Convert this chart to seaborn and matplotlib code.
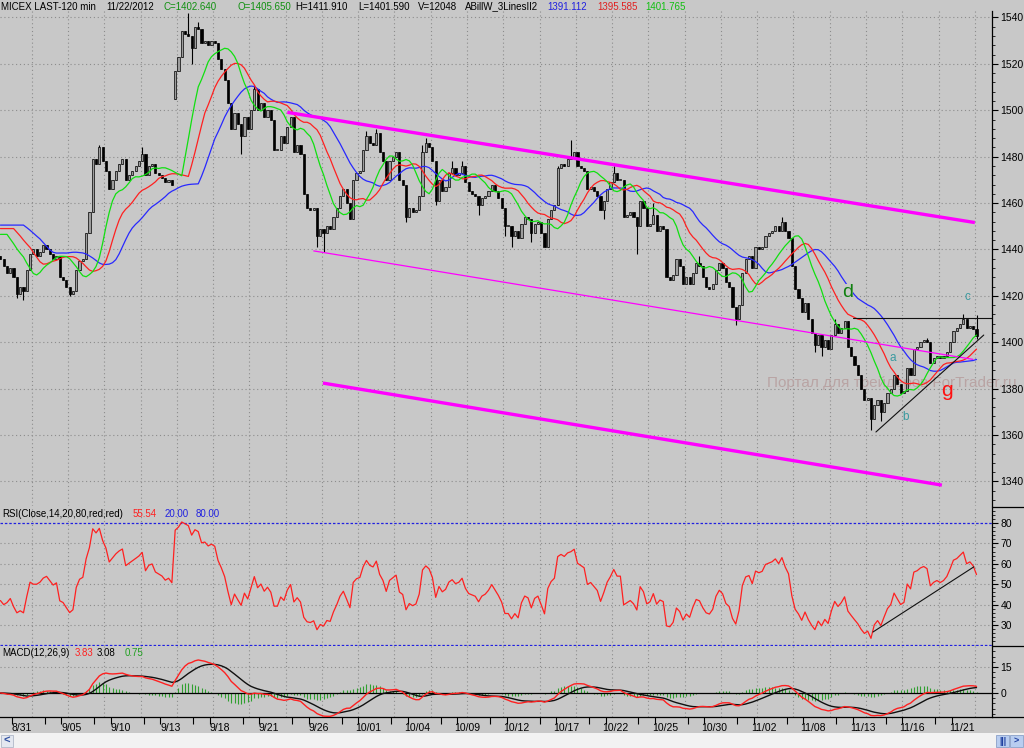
import numpy as np
import pandas as pd
import matplotlib
matplotlib.use("Agg")
import matplotlib.pyplot as plt
from matplotlib.patches import Rectangle
from matplotlib.lines import Line2D
import seaborn as sns

# ---- data (2-hour bars, MICEX) ----
days = ["8/30", "8/31", "9/03", "9/04", "9/05", "9/06", "9/07", "9/10", "9/11", "9/12",
        "9/13", "9/14", "9/17", "9/18", "9/19", "9/20", "9/21", "9/24", "9/25", "9/26",
        "9/27", "9/28", "10/01", "10/02", "10/03", "10/04", "10/05", "10/08", "10/09", "10/10",
        "10/11", "10/12", "10/15", "10/16", "10/17", "10/18", "10/19", "10/22", "10/23", "10/24",
        "10/25", "10/26", "10/29", "10/30", "10/31", "11/01", "11/02", "11/06", "11/07", "11/08",
        "11/09", "11/12", "11/13", "11/14", "11/15", "11/16", "11/19", "11/20", "11/21", "11/22"]
bars_per_day = [4] + [5] * 58 + [3]

closes = [
    1436, 1433, 1430, 1432, 1428, 1421, 1424, 1422, 1431, 1438,
    1440, 1437, 1439, 1442, 1440, 1438, 1436, 1437, 1428, 1427,
    1424, 1421, 1422, 1431, 1435, 1436, 1447, 1456, 1479, 1477,
    1484, 1478, 1474, 1466, 1470, 1474, 1477, 1479, 1470, 1472,
    1474, 1476, 1478, 1481, 1472, 1476, 1477, 1473, 1472, 1471,
    1469, 1470, 1468, 1517, 1523, 1534, 1533, 1532, 1527, 1536,
    1535, 1529, 1530, 1528, 1530, 1529, 1522, 1518, 1513, 1503,
    1492, 1499, 1494, 1489, 1497, 1492, 1500, 1509, 1500, 1503,
    1497, 1500, 1496, 1483, 1483, 1489, 1486, 1493, 1497, 1482,
    1485, 1481, 1464, 1458, 1457, 1458, 1446, 1449, 1447, 1450,
    1449, 1454, 1458, 1463, 1466, 1460, 1453, 1470, 1473, 1474,
    1483, 1489, 1486, 1485, 1490, 1482, 1478, 1470, 1478, 1480,
    1482, 1470, 1468, 1454, 1458, 1456, 1457, 1463, 1482, 1486,
    1484, 1478, 1461, 1470, 1465, 1467, 1473, 1475, 1472, 1473,
    1476, 1469, 1465, 1464, 1463, 1459, 1462, 1463, 1465, 1468,
    1465, 1462, 1458, 1450, 1450, 1446, 1448, 1445, 1451, 1454,
    1453, 1447, 1451, 1452, 1447, 1441, 1453, 1457, 1459, 1475,
    1477, 1476, 1479, 1480, 1482, 1476, 1475, 1474, 1466, 1467,
    1465, 1463, 1457, 1461, 1466, 1469, 1473, 1470, 1470, 1454,
    1455, 1456, 1454, 1450, 1461, 1458, 1450, 1451, 1455, 1448,
    1450, 1449, 1428, 1427, 1429, 1436, 1433, 1425, 1428, 1425,
    1430, 1434, 1433, 1428, 1424, 1423, 1425, 1431, 1434, 1432,
    1426, 1424, 1415, 1410, 1416, 1430, 1436, 1437, 1432, 1441,
    1440, 1441, 1446, 1447, 1448, 1450, 1448, 1452, 1448, 1445,
    1433, 1423, 1419, 1413, 1417, 1410, 1404, 1399, 1403, 1398,
    1401, 1397, 1403, 1408, 1404, 1406, 1409, 1398, 1394, 1390,
    1386, 1380, 1375, 1376, 1367, 1373, 1375, 1370, 1374, 1378,
    1380, 1386, 1382, 1378, 1379, 1389, 1386, 1397, 1398, 1400,
    1401, 1400, 1391, 1393, 1394, 1393, 1394, 1396, 1400, 1405,
    1406, 1408, 1410, 1406, 1407, 1405.65, 1402.64,
]
# opens that differ from the previous close
gap_opens = {0: 1437, 53: 1505}
# visible wick extremes
wick_highs = {30: 1485, 43: 1484, 57: 1542, 60: 1538, 77: 1511, 111: 1491, 114: 1492,
              128: 1485, 129: 1488, 137: 1478, 140: 1478, 169: 1476, 173: 1487,
              186: 1476, 198: 1460, 212: 1437, 237: 1454, 253: 1410, 281: 1402,
              292: 1412, 296: 1411.91}
wick_lows = {5: 1419, 7: 1418, 21: 1420, 58: 1520, 73: 1481, 96: 1441, 98: 1439,
             123: 1452, 132: 1459, 145: 1455, 153: 1446, 155: 1441, 161: 1443,
             183: 1453, 193: 1438, 223: 1407.5, 247: 1396, 249: 1394, 264: 1362,
             267: 1366, 296: 1401.59}

# indicator values at the left edge of the picture (before enough history exists)
jaw_start, teeth_start, lips_start = 1450.5, 1449.0, 1446.5
rsi_head = [42, 40, 41, 43, 39, 36, 37, 36, 44, 51, 50, 50, 51, 53]
rsi_period = 14

# drawn objects (bar index, price)
upper_channel = [(87.0, 1499.1), (295.5, 1451.6)]
middle_line = [(94.9, 1439.4), (295.0, 1392.6)]
lower_channel = [(97.8, 1382.4), (285.5, 1338.4)]
resistance = [(258.5, 1410.3), (300.7, 1410.3)]
support = [(265.5, 1361.3), (298.2, 1403.1)]
rsi_trend = [(264.6, 26.6), (295.2, 58.5)]
letters = [("d", 256.9, 1421.3), ("c", 293.3, 1419.5), ("a", 270.6, 1393.2),
           ("b", 274.6, 1367.9), ("g", 286.9, 1379.4)]

header = [("MICEX LAST-120 min", 1, "black"), ("11/22/2012", 106, "black"),
          ("C=1402.640", 163, "#109010"), ("O=1405.650", 237, "#109010"),
          ("H=1411.910", 295, "black"), ("L=1401.590", 358, "black"),
          ("V=12048", 418, "black"), ("ABillW_3LinesII2", 465, "black"),
          ("1391.112", 547, "#2020e0"), ("1395.585", 597, "#e02020"),
          ("1401.765", 645, "#10c010")]
rsi_title = [("RSI(Close,14,20,80,red,red)", 2, "black"), ("55.54", 133, "#ff2020"),
             ("20.00", 165, "#2020e0"), ("80.00", 196, "#2020e0")]
macd_title = [("MACD(12,26,9)", 2, "black"), ("3.83", 75, "#ff2020"),
              ("3.08", 97, "black"), ("0.75", 125, "#20a020")]

BG = "#c8c8c8"
W, H = 1024, 748


def fx(px):
    return px / W


def fy(py):
    return 1 - py / H


def smma(values, n, seed):
    out, prev = [], seed
    for v in values:
        prev = (prev * (n - 1) + v) / n
        out.append(prev)
    return np.array(out)


def shifted(line, shift, seed):
    return np.concatenate([[seed] * shift, line[:-shift]])


def wilder_rsi(values, n, head):
    d = np.diff(values)
    g, l = np.clip(d, 0, None), np.clip(-d, 0, None)
    out = list(head)
    ag, al = g[:n].mean(), l[:n].mean()
    out.append(100 - 100 / (1 + ag / al))
    for k in range(n, len(d)):
        ag = (ag * (n - 1) + g[k]) / n
        al = (al * (n - 1) + l[k]) / n
        out.append(100 - 100 / (1 + ag / al))
    return np.array(out)


sns.set_theme(style="white", rc={"axes.facecolor": BG, "figure.facecolor": BG})
plt.rcParams["font.family"] = ["Liberation Sans", "DejaVu Sans"]

df = pd.DataFrame({"close": closes})
df["bar"] = np.arange(len(df))
df["open"] = df["close"].shift(1)
for k, v in gap_opens.items():
    df.loc[k, "open"] = v
df["high"] = df[["open", "close"]].max(axis=1)
df["low"] = df[["open", "close"]].min(axis=1)
for k, v in wick_highs.items():
    df.loc[k, "high"] = max(v, df.loc[k, "high"])
for k, v in wick_lows.items():
    df.loc[k, "low"] = min(v, df.loc[k, "low"])
median = ((df["high"] + df["low"]) / 2).values

df["jaw"] = shifted(smma(median, 13, jaw_start), 8, jaw_start)
df["teeth"] = shifted(smma(median, 8, teeth_start), 5, teeth_start)
df["lips"] = shifted(smma(median, 5, lips_start), 3, lips_start)

df["rsi"] = wilder_rsi(df["close"].values, rsi_period, rsi_head)
ema12 = df["close"].ewm(span=12, adjust=False).mean()
ema26 = df["close"].ewm(span=26, adjust=False).mean()
df["macd"] = ema12 - ema26
df["signal"] = df["macd"].ewm(span=9, adjust=False).mean()
df["hist"] = df["macd"] - df["signal"]

fig = plt.figure(figsize=(10.24, 7.48), dpi=100)
ax_p = fig.add_axes([0, fy(506), fx(992), fy(11) - fy(506)])
ax_r = fig.add_axes([0, fy(646), fx(992), fy(507) - fy(646)], sharex=ax_p)
ax_m = fig.add_axes([0, fy(717), fx(992), fy(646) - fy(717)], sharex=ax_p)

xmin, xmax = -0.12, 300.7
ax_p.set_xlim(xmin, xmax)
ax_p.set_ylim(1329.4, 1542.8)
ax_r.set_ylim(19.75, 87.8)
ax_m.set_ylim(-13.85, 27.1)

grid_kw = dict(color="#8c8c8c", lw=0.8, ls=(0, (1, 2.5)), zorder=0.3)
for ax in (ax_p, ax_r, ax_m):
    for s in ("top", "left", "bottom"):
        ax.spines[s].set_visible(False)
    ax.spines["right"].set_color("black")
    ax.spines["right"].set_linewidth(0.9)
    ax.yaxis.tick_right()
    ax.tick_params(axis="y", direction="out", length=4, width=0.8, pad=2,
                   labelsize=7.5, colors="black")
    ax.tick_params(axis="y", which="minor", direction="out", length=2, width=0.7)
    ax.tick_params(axis="x", which="both", bottom=False, labelbottom=False)
    for g in np.arange(9.5, xmax, 11):
        ax.axvline(g, **grid_kw)
ax_m.spines["bottom"].set_visible(True)
ax_m.spines["bottom"].set_color("black")
ax_m.spines["bottom"].set_linewidth(0.9)

# price panel
ax_p.set_yticks(np.arange(1340, 1541, 20))
ax_p.set_yticks(np.arange(1332, 1542, 4), minor=True)
for v in np.arange(1340, 1541, 20):
    ax_p.axhline(v, **grid_kw)

ax_p.text(fx(767), fy(383), "Портал для трейдеров ForTrader.ru", transform=fig.transFigure,
          fontsize=11, color="#b9a4a4", va="center", ha="left", zorder=0.5, clip_on=False)

up = df["close"] >= df["open"]
ax_p.vlines(df["bar"], df["low"], df["high"], color="black", lw=0.8, zorder=2)
body_h = (df["close"] - df["open"]).abs().clip(lower=0.35)
body_b = df[["open", "close"]].min(axis=1)
ax_p.bar(df["bar"][up], body_h[up], bottom=body_b[up], width=0.66,
         color="#9c9c9c", edgecolor="black", linewidth=0.5, zorder=2.1)
ax_p.bar(df["bar"][~up], body_h[~up], bottom=body_b[~up], width=0.66,
         color="black", edgecolor="black", linewidth=0.5, zorder=2.1)

sns.lineplot(data=df, x="bar", y="jaw", ax=ax_p, color="#2828ff", lw=0.9, zorder=3)
sns.lineplot(data=df, x="bar", y="teeth", ax=ax_p, color="#ff2020", lw=0.9, zorder=3)
sns.lineplot(data=df, x="bar", y="lips", ax=ax_p, color="#10e010", lw=0.9, zorder=3)

for pts, lw in ((upper_channel, 2.4), (middle_line, 0.9), (lower_channel, 2.4)):
    ax_p.plot([p[0] for p in pts], [p[1] for p in pts], color="#ff00ff", lw=lw,
              solid_capstyle="butt", zorder=4)
for pts in (resistance, support):
    ax_p.plot([p[0] for p in pts], [p[1] for p in pts], color="#101010", lw=0.8, zorder=4)

for ch, bx, py in letters:
    if ch == "d":
        ax_p.text(bx, py, ch, fontsize=14, color="#108010", ha="center", va="center",
                  zorder=5, bbox=dict(facecolor=BG, edgecolor="none", pad=0.3))
    elif ch == "g":
        ax_p.text(bx, py, ch, fontsize=15, color="#ff1010", ha="center", va="center", zorder=5)
    else:
        ax_p.text(bx, py, ch, fontsize=8.5, color="#3a9aa0", ha="center", va="center", zorder=5)
ax_p.set_xlabel("")
ax_p.set_ylabel("")

# RSI panel
ax_r.set_yticks(np.arange(30, 81, 10))
ax_r.set_yticks(np.arange(22, 88, 2), minor=True)
for v in np.arange(30, 71, 10):
    ax_r.axhline(v, **grid_kw)
for v in (20, 80):
    ax_r.axhline(v, color="#2020e0", lw=0.9, ls=(0, (2, 1.5)), zorder=1)
sns.lineplot(data=df, x="bar", y="rsi", ax=ax_r, color="#ff2020", lw=0.9, zorder=3)
ax_r.plot([p[0] for p in rsi_trend], [p[1] for p in rsi_trend], color="#101010", lw=0.8, zorder=4)
ax_r.set_xlabel("")
ax_r.set_ylabel("")

# MACD panel
ax_m.set_yticks([0, 15])
ax_m.set_yticks(np.arange(-12, 27, 3), minor=True)
ax_m.axhline(15, **grid_kw)
ax_m.vlines(df["bar"], 0, df["hist"], color="#30a030", lw=0.8, zorder=2)
ax_m.axhline(0, color="black", lw=0.9, zorder=2.5)
sns.lineplot(data=df, x="bar", y="signal", ax=ax_m, color="#101010", lw=1.0, zorder=3)
sns.lineplot(data=df, x="bar", y="macd", ax=ax_m, color="#ff2020", lw=1.0, zorder=3.1)
ax_m.set_xlabel("")
ax_m.set_ylabel("")

# date axis
starts = np.concatenate([[0], np.cumsum(bars_per_day)[:-1]])
label_days = list(range(1, len(days), 3))
ax_m.set_xticks([starts[j] + 2.5 for j in label_days])
ax_m.set_xticklabels([days[j] for j in label_days])
ax_m.set_xticks([starts[j] - 0.5 for j in range(1, len(days)) if (j - 1) % 3 != 1], minor=True)
ax_m.tick_params(axis="x", which="major", bottom=True, labelbottom=True, length=0,
                 pad=4, labelsize=7.5, colors="black")
ax_m.tick_params(axis="x", which="minor", bottom=True, length=5, width=0.8,
                 direction="out", color="black")
ax_m.set_xlim(xmin, xmax)

# panel titles and header
for rows, py in ((header, 6.5), (rsi_title, 514), (macd_title, 653)):
    for text, x, c in rows:
        fig.text(fx(x), fy(py), text, fontsize=7, color=c, va="center", ha="left")

# right-side separators and bottom scroll bar
for py in (507, 646, 717):
    fig.add_artist(Line2D([fx(992), 1], [fy(py), fy(py)], color="black", lw=0.9))
fig.patches.append(Rectangle((0, 0), 1, fy(733), transform=fig.transFigure,
                             facecolor="#f2f2f2", edgecolor="none"))
fig.patches.append(Rectangle((fx(1), fy(747)), fx(12), fy(735) - fy(747),
                             transform=fig.transFigure, facecolor="#e4e8f0",
                             edgecolor="#b0b8c8", lw=0.6))
fig.text(fx(7), fy(741), "<", fontsize=8, color="#3050a0", ha="center", va="center",
         fontweight="bold")
for x0, t in ((996, "|||"), (1010, ">")):
    fig.patches.append(Rectangle((fx(x0), fy(747)), fx(13), fy(735) - fy(747),
                                 transform=fig.transFigure, facecolor="#b8cdf0",
                                 edgecolor="#8aa0c8", lw=0.6))
    fig.text(fx(x0 + 6.5), fy(741), t, fontsize=6.5, color="#2040a0", ha="center",
             va="center", fontweight="bold")

fig.savefig("out.png", dpi=100, facecolor=BG)
